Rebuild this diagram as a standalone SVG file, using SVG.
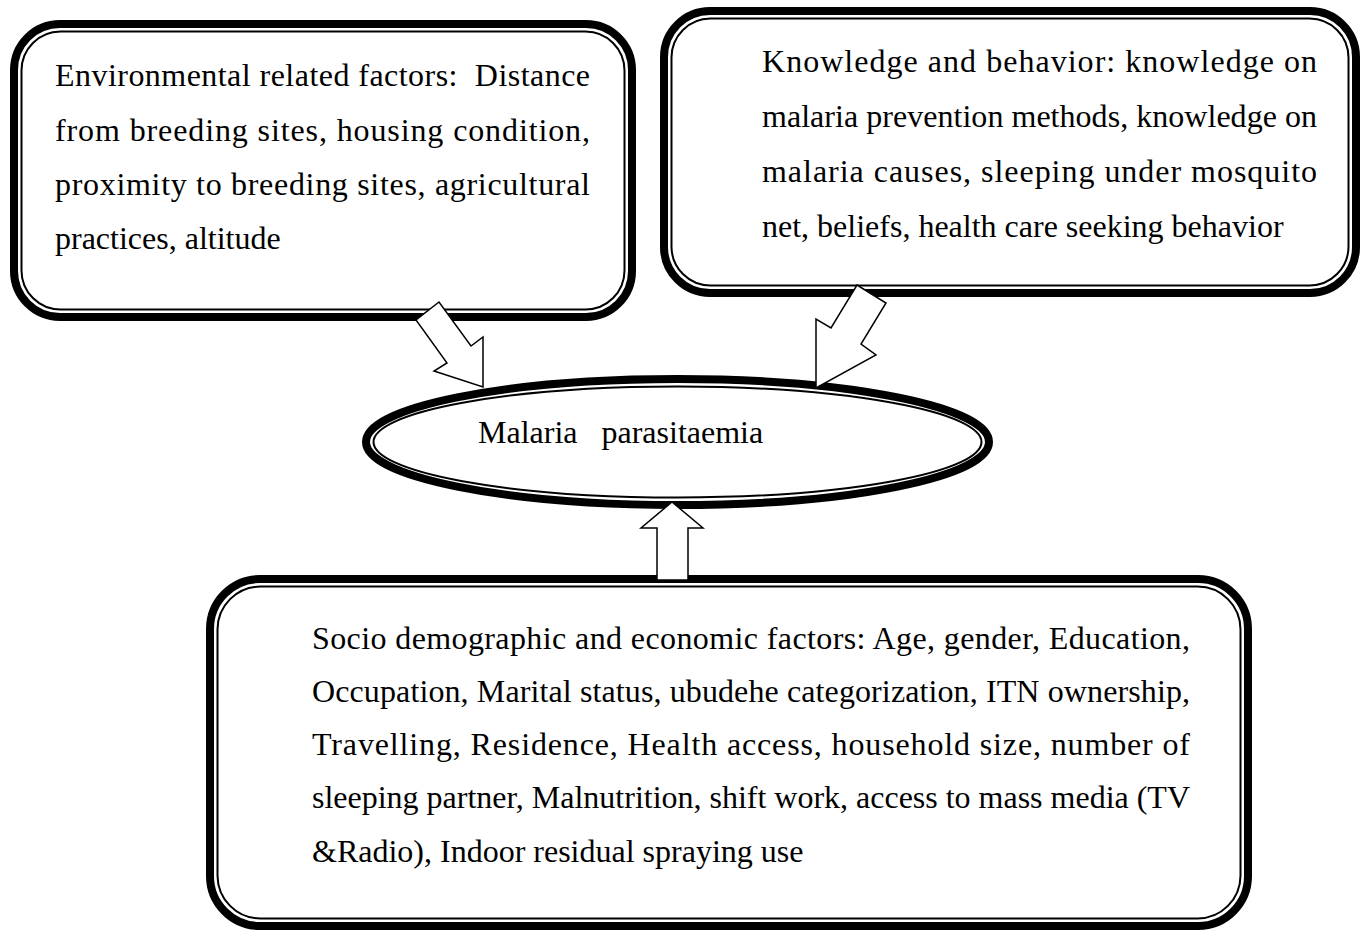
<svg xmlns="http://www.w3.org/2000/svg" width="1369" height="931" viewBox="0 0 1369 931">
<style>
.thick{fill:none;stroke:#000;stroke-width:8}
.thin{fill:none;stroke:#000;stroke-width:2}
.bg{fill:#fff}
text{font-family:"Liberation Serif","Times New Roman",serif;font-size:32px;fill:#000}
.arrow{fill:#fff;stroke:#000;stroke-width:1.5;stroke-linejoin:miter}
</style>
<rect x="0" y="0" width="1369" height="931" fill="#fff"/>
<g id="env">
<rect class="thick" x="14" y="24" width="618" height="293" rx="46"/>
<rect class="thin" x="21.5" y="31.5" width="603" height="278" rx="39"/>
<text x="55" y="86" textLength="535" lengthAdjust="spacing" xml:space="preserve">Environmental related factors:  Distance</text>
<text x="55" y="141" textLength="535" lengthAdjust="spacing">from breeding sites, housing condition,</text>
<text x="55" y="195" textLength="535" lengthAdjust="spacing">proximity to breeding sites, agricultural</text>
<text x="55" y="249">practices, altitude</text>
</g>
<g id="knowledge">
<rect class="thick" x="664" y="11" width="692" height="282" rx="46"/>
<rect class="thin" x="671.5" y="18.5" width="677" height="267" rx="39"/>
<text x="762" y="72" textLength="555" lengthAdjust="spacing">Knowledge and behavior: knowledge on</text>
<text x="762" y="127" textLength="555" lengthAdjust="spacing">malaria prevention methods, knowledge on</text>
<text x="762" y="182" textLength="555" lengthAdjust="spacing">malaria causes, sleeping under mosquito</text>
<text x="762" y="237">net, beliefs, health care seeking behavior</text>
</g>
<g id="socio">
<rect class="thick" x="210" y="579" width="1038" height="347" rx="50"/>
<rect class="thin" x="217.5" y="586.5" width="1023" height="332" rx="43"/>
<text x="312" y="649" textLength="878" lengthAdjust="spacing">Socio demographic and economic factors: Age, gender, Education,</text>
<text x="312" y="702" textLength="878" lengthAdjust="spacing">Occupation, Marital status, ubudehe categorization, ITN ownership,</text>
<text x="312" y="755" textLength="878" lengthAdjust="spacing">Travelling, Residence, Health access, household size, number of</text>
<text x="312" y="808" textLength="878" lengthAdjust="spacing">sleeping partner, Malnutrition, shift work, access to mass media (TV</text>
<text x="312" y="862">&amp;Radio), Indoor residual spraying use</text>
</g>
<g id="malaria">
<ellipse class="thick" cx="677.5" cy="442" rx="311.5" ry="63"/>
<ellipse class="thin" cx="677.5" cy="442" rx="304" ry="55.5"/>
<text x="478" y="443" xml:space="preserve">Malaria   parasitaemia</text>
</g>
<g id="connectors">
<polygon class="arrow" points="439,302 416,320 447,363 434,371 483,387 483,337 471,346"/>
<polygon class="arrow" points="857,285 886,303 861,344 876,355 816,388 816,319 831,328"/>
<polygon class="arrow" points="672,502 703,528 688,528 688,580 657,580 657,528 641,528"/>
</g>
</svg>
